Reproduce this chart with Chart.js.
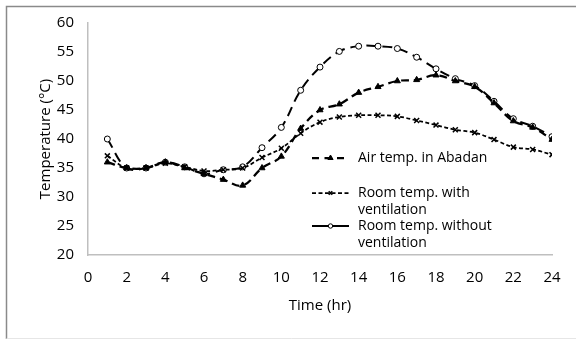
<!DOCTYPE html>
<html>
<head>
<meta charset="utf-8">
<script src="https://cdn.jsdelivr.net/npm/chart.js@4.4.1/dist/chart.umd.min.js"></script>
<style>
  html, body { margin: 0; padding: 0; background: #fff; }
  #wrap { width: 576px; height: 339px; }
</style>
</head>
<body>
<div id="wrap"><canvas id="tempChart" width="576" height="339"></canvas></div>
<script>
// Hourly temperatures (°C)
var hours = [1, 2, 3, 4, 5, 6, 7, 8, 9, 10, 11, 12, 13, 14, 15, 16, 17, 18, 19, 20, 21, 22, 23, 24];
var airTemp = [36, 35, 35, 36, 35, 34, 33, 32, 35, 37, 41.8, 45, 46, 48, 49, 50, 50.2, 51, 50, 49, 46.2, 43.1, 42, 39.9];
var ventTemp = [37.1, 35, 35, 35.8, 35.2, 34.5, 34.7, 35, 36.8, 38.4, 41, 42.9, 43.8, 44.1, 44.1, 43.9, 43.2, 42.4, 41.6, 41.1, 39.9, 38.6, 38.2, 37.3];
var noVentTemp = [40, 35, 35, 36, 35.2, 34, 34.7, 35.2, 38.5, 42, 48.4, 52.4, 55.1, 56, 56, 55.6, 54.1, 52.1, 50.4, 49.2, 46.5, 43.5, 42.2, 40.4];

var seriesNames = ['Air temp. in Abadan', 'Room temp. with\nventilation', 'Room temp. without\nventilation'];
var xTicks = [0, 2, 4, 6, 8, 10, 12, 14, 16, 18, 20, 22, 24];
var yTicks = [20, 25, 30, 35, 40, 45, 50, 55, 60];

var FONT = "'Open Sans', sans-serif";

function toPoints(values) {
    return hours.map(function(h, i) { return { x: h, y: values[i] }; });
}

// Outer frame of the chart
var framePlugin = {
    id: 'frame',
    beforeDraw: function(chart) {
        var ctx = chart.ctx;
        ctx.save();
        ctx.strokeStyle = '#8a8a8a';
        ctx.lineWidth = 1.5;
        ctx.beginPath();
        ctx.moveTo(6.5, 339);
        ctx.lineTo(6.5, 6.5);
        ctx.lineTo(576, 6.5);
        ctx.stroke();
        ctx.strokeStyle = '#e6e6e6';
        ctx.lineWidth = 1;
        ctx.beginPath();
        ctx.moveTo(6.5, 338.5);
        ctx.lineTo(576, 338.5);
        ctx.stroke();
        ctx.restore();
    }
};

// Legend drawn inside the plot, with wrapped labels
var legendPlugin = {
    id: 'insideLegend',
    afterDraw: function(chart) {
        var ctx = chart.ctx;
        var rows = [158, 193, 226];
        var x0 = 312, x1 = 349, tx = 358;
        ctx.save();
        chart.data.datasets.forEach(function(ds, i) {
            var y = rows[i];
            var cx = (x0 + x1) / 2;
            ctx.strokeStyle = '#000';
            ctx.lineWidth = ds.borderWidth;
            ctx.setLineDash(ds.legendDash);
            ctx.beginPath();
            ctx.moveTo(x0, y);
            ctx.lineTo(x1, y);
            ctx.stroke();
            ctx.setLineDash([]);
            ctx.fillStyle = ds.pointBackgroundColor;
            ctx.strokeStyle = ds.pointBorderColor;
            ctx.lineWidth = ds.pointBorderWidth;
            Chart.helpers.drawPoint(ctx, {
                pointStyle: ds.pointStyle,
                rotation: 0,
                radius: ds.legendRadius,
                borderWidth: ds.pointBorderWidth
            }, cx, y);
            ctx.fillStyle = '#000';
            ctx.font = '14px ' + FONT;
            ctx.textBaseline = 'middle';
            seriesNames[i].split('\n').forEach(function(line, k) {
                ctx.fillText(line, tx, y + k * 17);
            });
        });
        ctx.restore();
    }
};

new Chart(document.getElementById('tempChart').getContext('2d'), {
    type: 'line',
    data: {
        datasets: [{
            label: seriesNames[0],
            data: toPoints(airTemp),
            borderColor: '#000',
            borderWidth: 2.25,
            borderDash: [8, 5],
            legendDash: [7, 5.5],
            pointStyle: 'triangle',
            pointRadius: 3.5,
            legendRadius: 3,
            pointBackgroundColor: '#000',
            pointBorderColor: '#000',
            pointBorderWidth: 1,
            tension: 0.4
        }, {
            label: seriesNames[1],
            data: toPoints(ventTemp),
            borderColor: '#000',
            borderWidth: 1.75,
            borderDash: [4, 2.5],
            legendDash: [4, 2.5],
            pointStyle: 'crossRot',
            pointRadius: 3.5,
            legendRadius: 2.5,
            pointBackgroundColor: '#000',
            pointBorderColor: '#000',
            pointBorderWidth: 1.5,
            tension: 0.4
        }, {
            label: seriesNames[2],
            data: toPoints(noVentTemp),
            borderColor: '#000',
            borderWidth: 2,
            borderDash: [10, 6],
            legendDash: [],
            pointStyle: 'circle',
            pointRadius: 3,
            legendRadius: 2.2,
            pointBackgroundColor: '#fff',
            pointBorderColor: '#000',
            pointBorderWidth: 1,
            tension: 0.4
        }]
    },
    options: {
        responsive: false,
        animation: false,
        layout: { padding: { left: 30, right: 24, top: 17, bottom: 24 } },
        plugins: {
            legend: { display: false },
            tooltip: { enabled: false }
        },
        scales: {
            x: {
                type: 'linear',
                min: 0,
                max: 24,
                afterBuildTicks: function(scale) {
                    scale.ticks = xTicks.map(function(v) { return { value: v }; });
                },
                afterFit: function(scale) { scale.height = 60; },
                grid: { display: false, drawTicks: false },
                border: { color: '#bfbfbf', width: 1.5 },
                ticks: { color: '#000', padding: 14, maxRotation: 0, font: { family: FONT, size: 15 } },
                title: { display: true, text: 'Time (hr)', color: '#000', padding: 0, font: { family: FONT, size: 15 } }
            },
            y: {
                min: 20,
                max: 60,
                afterBuildTicks: function(scale) {
                    scale.ticks = yTicks.map(function(v) { return { value: v }; });
                },
                afterFit: function(scale) { scale.width = 58; },
                grid: { display: false, drawTicks: false },
                border: { color: '#bfbfbf', width: 1.5 },
                ticks: { color: '#000', padding: 14, font: { family: FONT, size: 15 } },
                title: { display: true, text: 'Temperature (°C)', color: '#000', padding: { top: 7, bottom: 0 }, font: { family: FONT, size: 15 } }
            }
        }
    },
    plugins: [framePlugin, legendPlugin]
});
</script>
</body>
</html>
